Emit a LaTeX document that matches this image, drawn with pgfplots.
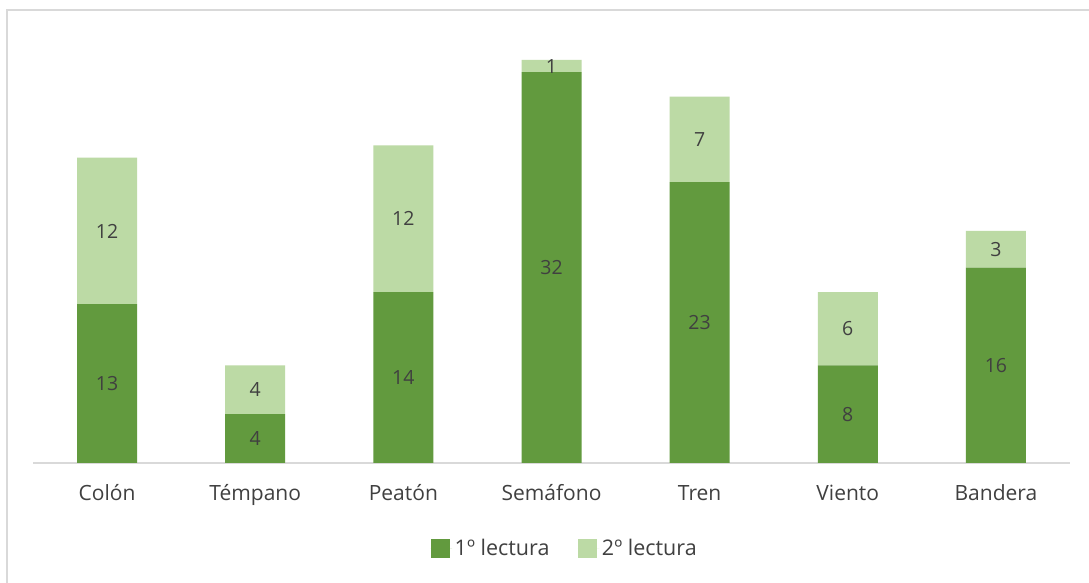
\documentclass[border=0pt]{standalone}
\usepackage{fontspec}
\setmainfont{Open Sans}
\usepackage{pgfplots}
\pgfplotsset{compat=1.18}

\definecolor{darkgreen}{HTML}{629A3E}
\definecolor{lightgreen}{HTML}{BCDAA5}
\definecolor{labelgray}{HTML}{404040}
\definecolor{framegray}{HTML}{D9D9D9}

\begin{document}
\begin{tikzpicture}
  % page area and chart frame
  \fill[white] (0,0) rectangle (1089bp,583bp);
  \useasboundingbox (0,0) rectangle (1089bp,583bp);
  \draw[framegray, line width=1.5bp] (7bp,-5bp) -- (7bp,573bp) -- (1100bp,573bp);

  \begin{axis}[
    at={(33bp,120bp)}, anchor=south west,
    scale only axis,
    width=1037bp, height=403bp,
    ybar stacked,
    bar width=60bp,
    xmin=-0.5, xmax=6.5,
    ymin=0, ymax=33,
    axis y line=none,
    axis x line=bottom,
    x axis line style={draw=framegray, line width=1.5bp, -},
    xtick=data,
    xticklabels={Colón, Témpano, Peatón, Semáfono, Tren, Viento, Bandera},
    xtick style={draw=none},
    xticklabel style={font=\fontsize{21bp}{25bp}\selectfont, text=labelgray, anchor=base, yshift=-35bp},
    /pgf/number format/assume math mode=true,
    point meta=rawy,
    nodes near coords,
    every node near coord/.append style={
      font=\fontsize{19.5bp}{23bp}\selectfont, text=labelgray, anchor=center},
    legend columns=2,
    legend style={at={(0.513,-0.211)}, anchor=center, draw=none, fill=none,
      font=\fontsize{21.5bp}{26bp}\selectfont, text=labelgray,
      /tikz/every even column/.append style={column sep=26bp},
      nodes={inner sep=2.5bp}},
    legend image code/.code={
      \fill[#1] (0bp,-9.5bp) rectangle (19.5bp,9.5bp);
      \path (0bp,0bp) -- (21.5bp,0bp);},
  ]
    \addplot[fill=darkgreen, draw=none] coordinates
      {(0,13) (1,4) (2,14) (3,32) (4,23) (5,8) (6,16)};
    \addplot[fill=lightgreen, draw=none] coordinates
      {(0,12) (1,4) (2,12) (3,1) (4,7) (5,6) (6,3)};
    \legend{1º lectura, 2º lectura}
  \end{axis}
\end{tikzpicture}
\end{document}
